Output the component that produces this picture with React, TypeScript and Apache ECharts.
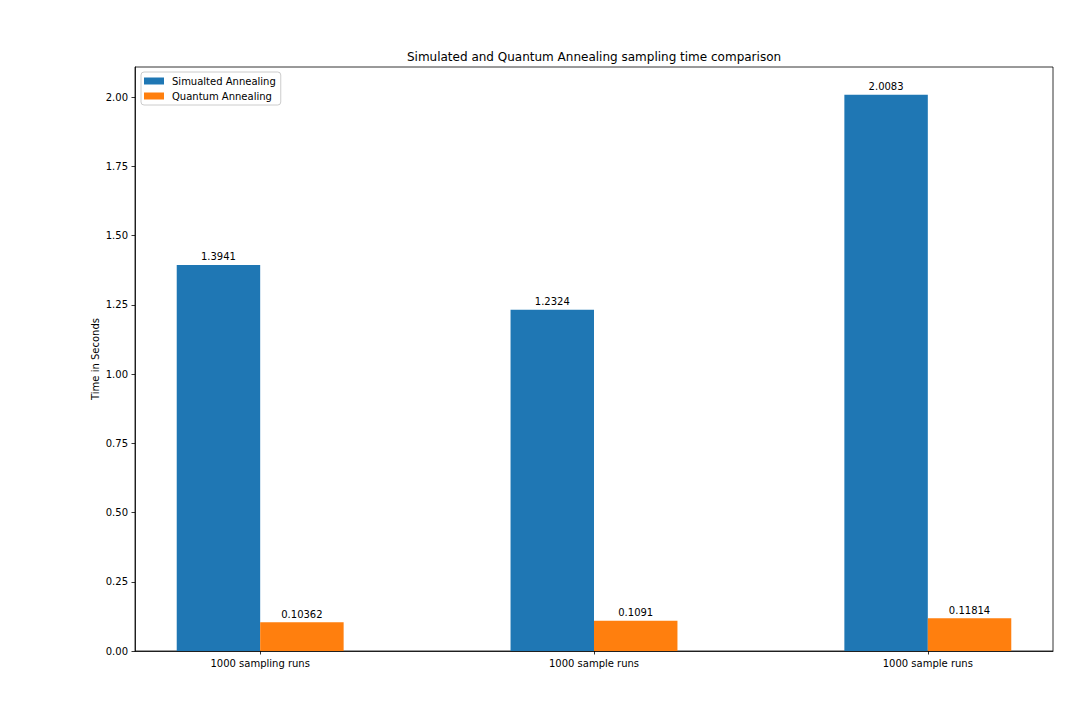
import React, { useEffect, useRef } from "react";
import * as echarts from "echarts";

const categories = ["1000 sampling runs", "1000 sample runs", "1000 sample runs"];
const seriesNames = ["Simualted Annealing", "Quantum Annealing"];
const simulatedValues = [1.3941, 1.2324, 2.0083];
const quantumValues = [0.10362, 0.1091, 0.11814];
const simulatedLabels = ["1.3941", "1.2324", "2.0083"];
const quantumLabels = ["0.10362", "0.1091", "0.11814"];
const yTicks = [0, 0.25, 0.5, 0.75, 1.0, 1.25, 1.5, 1.75, 2.0];
const xTicks = [0, 1, 2];

const FONT = "DejaVu Sans";
const BAR_W = 0.25;

export default function App() {
  const ref = useRef<HTMLDivElement>(null);
  useEffect(() => {
    if (!ref.current) return;
    const chart = echarts.init(ref.current, undefined, { renderer: "svg" });
    const gridLeft = 135;
    const gridTop = 67;
    const gridWidth = 918;
    const gridHeight = 584;
    const xMin = -0.375;
    const xMax = 2.375;
    const pxPerUnit = gridWidth / (xMax - xMin);
    const yMax = Math.max(...simulatedValues, ...quantumValues) * 1.05;

    const makeSeries = (name: string, values: number[], labels: string[], offset: number, color: string) => ({
      name,
      type: "bar",
      data: values.map((v, i) => [i + offset, v]),
      barWidth: BAR_W * pxPerUnit,
      barGap: "-100%",
      itemStyle: { color },
      label: {
        show: true,
        position: "top",
        distance: 3,
        fontFamily: FONT,
        fontSize: 10,
        color: "#000",
        formatter: (p: any) => labels[p.dataIndex],
      },
    });

    chart.setOption({
      animation: false,
      textStyle: { fontFamily: FONT },
      grid: {
        left: gridLeft,
        top: gridTop,
        width: gridWidth,
        height: gridHeight,
        show: true,
        borderColor: "#000",
        borderWidth: 0.8,
        backgroundColor: "transparent",
      },
      graphic: [
        {
          type: "text",
          x: gridLeft + gridWidth / 2,
          y: 57,
          style: {
            text: "Simulated and Quantum Annealing sampling time comparison",
            fontFamily: FONT,
            fontSize: 12,
            fill: "#000",
            textAlign: "center",
            textVerticalAlign: "middle",
          },
        },
      ],
      legend: {
        left: 141,
        top: 72,
        orient: "vertical",
        icon: "rect",
        itemWidth: 20,
        itemHeight: 7,
        itemGap: 3,
        padding: [3, 5, 3, 3],
        borderColor: "#cccccc",
        borderWidth: 1,
        borderRadius: 3,
        backgroundColor: "rgba(255,255,255,0.8)",
        textStyle: { fontFamily: FONT, fontSize: 10, color: "#000", lineHeight: 12, padding: [0, 0, 0, 3] },
        data: seriesNames,
      },
      xAxis: {
        type: "value",
        min: xMin,
        max: xMax,
        splitLine: { show: false },
        axisLine: { show: true, onZero: false, lineStyle: { color: "#000", width: 0.8 } },
        axisTick: { show: true, length: 3.5, customValues: xTicks, lineStyle: { color: "#000", width: 0.8 } },
        axisLabel: {
          show: true,
          margin: 7,
          customValues: xTicks,
          fontFamily: FONT,
          fontSize: 10,
          color: "#000",
          formatter: (v: number) => categories[Math.round(v)] ?? "",
        },
      },
      yAxis: {
        type: "value",
        min: 0,
        max: yMax,
        name: "Time in Seconds",
        nameLocation: "middle",
        nameGap: 35,
        nameMoveOverlap: false,
        nameTextStyle: { fontFamily: FONT, fontSize: 10, color: "#000" },
        splitLine: { show: false },
        axisLine: { show: true, onZero: false, lineStyle: { color: "#000", width: 0.8 } },
        axisTick: { show: true, length: 3.5, customValues: yTicks, lineStyle: { color: "#000", width: 0.8 } },
        axisLabel: {
          show: true,
          margin: 7,
          customValues: yTicks,
          fontFamily: FONT,
          fontSize: 10,
          color: "#000",
          formatter: (v: number) => v.toFixed(2),
        },
      },
      series: [
        makeSeries(seriesNames[0], simulatedValues, simulatedLabels, -BAR_W / 2, "#1f77b4"),
        makeSeries(seriesNames[1], quantumValues, quantumLabels, BAR_W / 2, "#ff7f0e"),
      ],
    });
    return () => chart.dispose();
  }, []);
  return (
    <div
      ref={ref}
      style={{ position: "fixed", left: 0, top: 0, width: 1080, height: 720, background: "#fff" }}
    />
  );
}
